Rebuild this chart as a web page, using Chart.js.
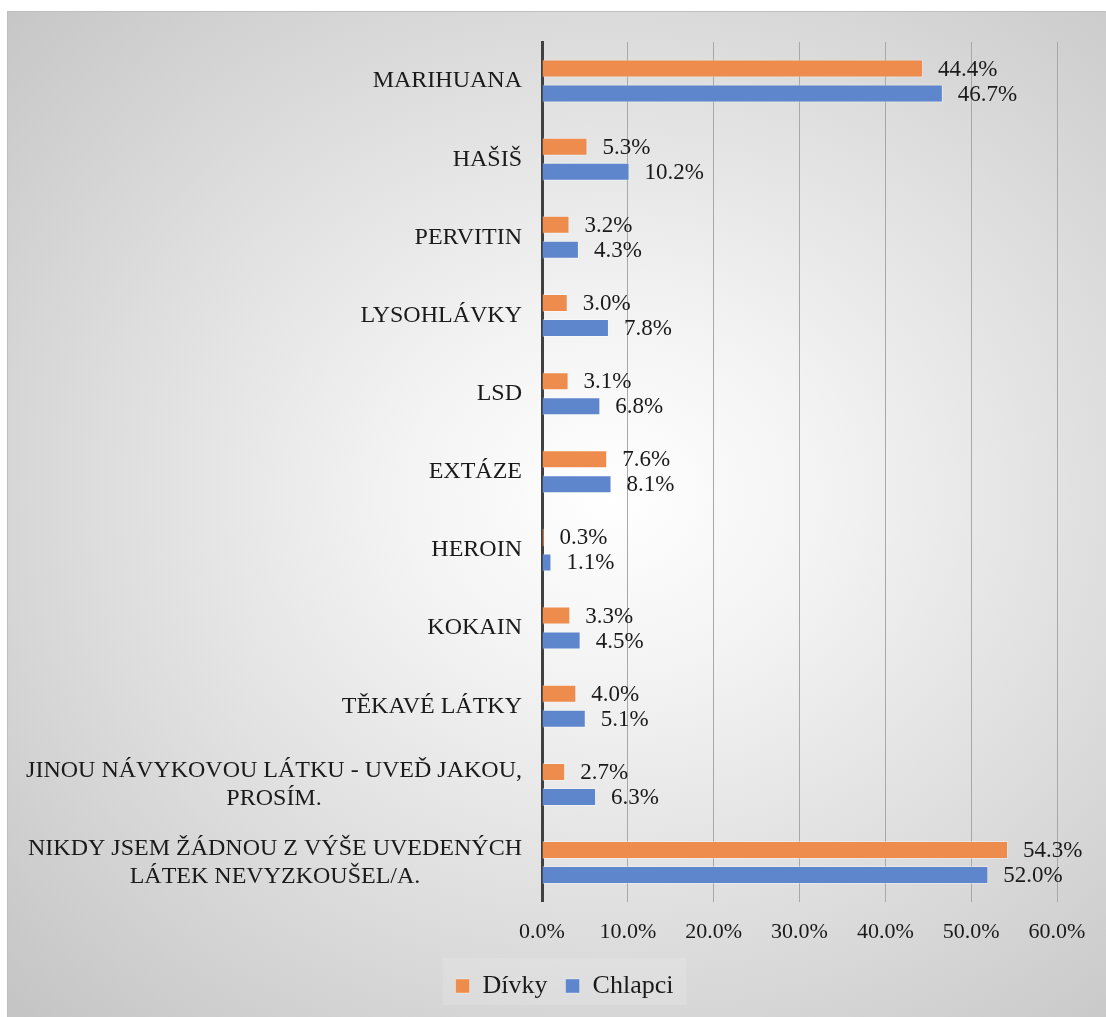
<!DOCTYPE html>
<html>
<head>
<meta charset="utf-8">
<script src="https://cdn.jsdelivr.net/npm/chart.js@4"></script>
<style>
    html, body { margin: 0; padding: 0; background: #ffffff; }
    #box {
        position: absolute;
        left: 7px;
        top: 11px;
        width: 1099px;
        height: 1006px;
        border-left: 1px solid #bfbfbf;
        border-top: 1px solid #bfbfbf;
        background: radial-gradient(ellipse farthest-corner at 55% 48%, #ffffff 0%, #f3f3f3 25%, #c4c4c4 100%);
    }
    #box canvas { display: block; }
</style>
</head>
<body>
<div id="box">
    <canvas id="drogyChart" width="1099" height="1006"></canvas>
</div>
<script>
// kategorie (víceřádkové popisky jako pole řádků)
const categories = [
    ['MARIHUANA'],
    ['HAŠIŠ'],
    ['PERVITIN'],
    ['LYSOHLÁVKY'],
    ['LSD'],
    ['EXTÁZE'],
    ['HEROIN'],
    ['KOKAIN'],
    ['TĚKAVÉ LÁTKY'],
    ['JINOU NÁVYKOVOU LÁTKU - UVEĎ JAKOU,', 'PROSÍM.'],
    ['NIKDY JSEM ŽÁDNOU Z VÝŠE UVEDENÝCH', 'LÁTEK NEVYZKOUŠEL/A.']
];
const divky = [44.4, 5.3, 3.2, 3.0, 3.1, 7.6, 0.3, 3.3, 4.0, 2.7, 54.3];
const chlapci = [46.7, 10.2, 4.3, 7.8, 6.8, 8.1, 1.1, 4.5, 5.1, 6.3, 52.0];
const xTicks = [0, 10, 20, 30, 40, 50, 60];

const serif = "'Liberation Serif', 'Times New Roman', serif";

// popisky kategorií vlevo od osy, víceřádkové zarovnané na střed
const categoryLabels = {
    id: 'categoryLabels',
    afterDraw(chart) {
        const ctx = chart.ctx;
        const yScale = chart.scales.y;
        const rightX = yScale.right - 20;
        const lineH = 28;
        ctx.save();
        ctx.font = '24px ' + serif;
        ctx.fillStyle = '#1a1a1a';
        ctx.textAlign = 'center';
        ctx.textBaseline = 'middle';
        categories.forEach(function (lines, i) {
            const y = yScale.getPixelForValue(i);
            const w = Math.max.apply(null, lines.map(function (l) { return ctx.measureText(l).width; }));
            const cx = rightX - w / 2;
            const y0 = y - (lines.length - 1) * lineH / 2;
            lines.forEach(function (l, j) {
                ctx.fillText(l, cx, y0 + j * lineH);
            });
        });
        ctx.restore();
    }
};

// hodnoty za konci sloupců
const valueLabels = {
    id: 'valueLabels',
    afterDatasetsDraw(chart) {
        const ctx = chart.ctx;
        ctx.save();
        ctx.font = '23px ' + serif;
        ctx.fillStyle = '#1a1a1a';
        ctx.textAlign = 'left';
        ctx.textBaseline = 'middle';
        chart.data.datasets.forEach(function (ds, di) {
            chart.getDatasetMeta(di).data.forEach(function (bar, i) {
                ctx.fillText(ds.data[i].toFixed(1) + '%', bar.x + 15, bar.y + 1);
            });
        });
        ctx.restore();
    }
};

// legenda posunutá doprava pod osu a se světlým podkladem
const legendBox = {
    id: 'legendBox',
    afterLayout(chart) {
        const lg = chart.legend;
        lg.left += 32;
        lg.right += 32;
        lg.top -= 7;
        lg.bottom -= 7;
    },
    beforeDraw(chart) {
        const lg = chart.legend;
        const cx = (lg.left + lg.right) / 2;
        const cy = (lg.top + lg.bottom) / 2;
        const ctx = chart.ctx;
        ctx.save();
        ctx.fillStyle = 'rgba(255, 255, 255, 0.14)';
        ctx.fillRect(cx - 122, cy - 24, 244, 47);
        ctx.restore();
    }
};

const ctx = document.getElementById('drogyChart').getContext('2d');
const drogyChart = new Chart(ctx, {
    type: 'bar',
    data: {
        labels: categories.map(function (l) { return l.join(' '); }),
        datasets: [{
            label: 'Dívky',
            data: divky,
            backgroundColor: '#EE8C4E',
            borderColor: 'rgba(255, 255, 255, 0.35)',
            borderWidth: 1,
            barPercentage: 0.72,
            categoryPercentage: 0.64
        }, {
            label: 'Chlapci',
            data: chlapci,
            backgroundColor: '#5E86CC',
            borderColor: 'rgba(255, 255, 255, 0.35)',
            borderWidth: 1,
            barPercentage: 0.72,
            categoryPercentage: 0.64
        }]
    },
    options: {
        indexAxis: 'y',
        responsive: false,
        animation: false,
        layout: {
            padding: { left: 0, right: 50, top: 30, bottom: 2 }
        },
        plugins: {
            tooltip: { enabled: false },
            legend: {
                position: 'bottom',
                labels: {
                    font: { family: serif, size: 26 },
                    color: '#1a1a1a',
                    boxWidth: 14,
                    boxHeight: 14,
                    padding: 18
                }
            }
        },
        scales: {
            x: {
                min: 0,
                max: 60,
                afterBuildTicks: function (scale) {
                    scale.ticks = xTicks.map(function (v) { return { value: v }; });
                },
                grid: {
                    color: function (c) { return c.tick && c.tick.value === 0 ? 'rgba(0,0,0,0)' : '#a8a8a8'; },
                    lineWidth: 1,
                    drawTicks: false
                },
                border: { display: false },
                ticks: {
                    padding: 17,
                    font: { family: serif, size: 22 },
                    color: '#1a1a1a',
                    callback: function (v) { return Number(v).toFixed(1) + '%'; }
                }
            },
            y: {
                afterFit: function (scale) { scale.width = 534; },
                grid: { display: false },
                border: { display: true, color: '#404040', width: 3 },
                ticks: { display: false }
            }
        }
    },
    plugins: [categoryLabels, valueLabels, legendBox]
});
</script>
</body>
</html>
